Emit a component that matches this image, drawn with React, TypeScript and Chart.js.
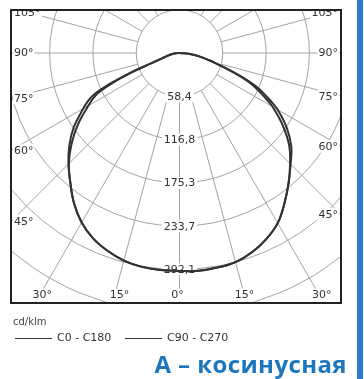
import React, { useEffect, useRef } from "react";
import { Chart, registerables } from "chart.js";

Chart.register(...registerables);

// ---- data (gamma angle in degrees: negative = left half, positive = right half) ----
const gammaAngles = [
  -90, -85, -80, -76, -74, -72, -70, -68, -66, -64, -62, -60, -55, -50, -45, -40, -35, -30, -25, -20, -15, -10, -5,
  0,
  5, 10, 15, 20, 25, 30, 35, 40, 45, 50, 55, 60, 62, 64, 66, 68, 70, 72, 74, 76, 80, 85, 90,
];
const seriesNames = ["C0 - C180", "C90 - C270"];
const c0c180 = [
  0, 5, 12, 18, 22, 28, 40, 68, 98, 121, 133, 142, 167, 190, 211, 229, 248, 264, 276, 284, 290, 293, 294,
  294,
  295, 294, 292, 286, 277, 265, 247, 229, 211, 193, 170, 145, 133, 121, 110, 96, 80, 64, 51, 42, 28, 14, 0,
];
const c90c270 = [
  0, 5, 12, 18, 22, 28, 41, 74, 105, 129, 141, 150, 174, 194, 212, 229, 248, 264, 276, 284, 290, 293, 294,
  294,
  295, 294, 292, 286, 277, 265, 247, 229, 212, 197, 177, 153, 141, 128, 116, 100, 82, 64, 51, 42, 28, 14, 0,
];
const ringStep = 58.42;
const ringValues = [58.4, 116.8, 175.3, 233.7, 292.1];
const ringLabels = ["58,4", "116,8", "175,3", "233,7", "292,1"];
const angleTicks = [-105, -90, -75, -60, -45, -30, -15, 0, 15, 30, 45, 60, 75, 90, 105];
const angleTickLabels = ["105°", "90°", "75°", "60°", "45°", "30°", "15°", "0°", "15°", "30°", "45°", "60°", "75°", "90°", "105°"];
const unitLabel = "cd/klm";
const titleText = "А – косинусная";

// ---- layout ----
const W = 364;
const H = 379;
const BOX = { left: 11, top: 10, right: 341, bottom: 303 };
const CENTER = { x: 179.5, y: 53 };
const PPU = 43.3 / ringStep; // pixels per cd/klm

const X_MIN = -(CENTER.x - BOX.left) / PPU;
const X_MAX = (BOX.right - CENTER.x) / PPU;
const Y_MAX = (CENTER.y - BOX.top) / PPU;
const Y_MIN = -(BOX.bottom - CENTER.y) / PPU;

const toXY = (vals: number[]) =>
  gammaAngles.map((a, i) => {
    const t = (a * Math.PI) / 180;
    return { x: vals[i] * Math.sin(t), y: -vals[i] * Math.cos(t) };
  });

const FONT = '11px "DejaVu Sans"';
const GRID = "#a3a3a3";
const TXT = "#333333";

const polarGrid = {
  id: "polarGrid",
  beforeDatasetsDraw(chart: any) {
    const { ctx, chartArea: a, scales } = chart;
    const xs = scales.x;
    const ys = scales.y;
    const cx = xs.getPixelForValue(0);
    const cy = ys.getPixelForValue(0);
    const ppu = xs.getPixelForValue(1) - cx;
    ctx.save();
    ctx.beginPath();
    ctx.rect(a.left, a.top, a.right - a.left, a.bottom - a.top);
    ctx.clip();
    ctx.fillStyle = "#ffffff";
    ctx.fillRect(a.left, a.top, a.right - a.left, a.bottom - a.top);
    ctx.strokeStyle = GRID;
    ctx.lineWidth = 1;
    for (let k = 1; k <= 8; k++) {
      ctx.beginPath();
      ctx.arc(cx, cy, k * ringStep * ppu, 0, Math.PI * 2);
      ctx.stroke();
    }
    const r0 = ringStep * ppu;
    const r1 = 12 * ringStep * ppu;
    for (let d = 0; d < 360; d += 15) {
      const t = (d * Math.PI) / 180;
      const dx = Math.sin(t);
      const dy = Math.cos(t);
      ctx.beginPath();
      ctx.moveTo(cx + dx * r0, cy + dy * r0);
      ctx.lineTo(cx + dx * r1, cy + dy * r1);
      ctx.stroke();
    }
    ctx.font = FONT;
    ctx.textBaseline = "middle";
    ctx.textAlign = "center";
    ringValues.forEach((v, i) => {
      const y = cy + v * ppu;
      const w = ctx.measureText(ringLabels[i]).width + 4;
      ctx.fillStyle = "#ffffff";
      ctx.fillRect(cx - w / 2, y - 6, w, 12);
      ctx.fillStyle = TXT;
      ctx.fillText(ringLabels[i], cx, y + 0.5);
    });
    angleTicks.forEach((g, i) => {
      const t = (g * Math.PI) / 180;
      const dx = Math.sin(t);
      const dy = Math.cos(t);
      const label = angleTickLabels[i];
      const w = ctx.measureText(label).width;
      let tx: number;
      let ty: number;
      let ta: "left" | "right" | "center";
      const cands: number[] = [];
      if (dx < 0) cands.push((a.left - cx) / dx);
      if (dx > 0) cands.push((a.right - cx) / dx);
      if (dy > 0) cands.push((a.bottom - cy) / dy);
      if (dy < 0) cands.push((a.top - cy) / dy);
      const s = Math.min(...cands);
      const px = cx + dx * s;
      const py = cy + dy * s;
      if (py >= a.bottom - 0.5) {
        ta = "center";
        tx = px + (g < 0 ? 7 : -2);
        ty = a.bottom - 8;
      } else if (dx < 0) {
        ta = "left";
        tx = a.left + 3;
        ty = Math.max(py, a.top + 3);
      } else {
        ta = "right";
        tx = a.right - 3;
        ty = Math.max(py, a.top + 3);
      }
      const lx = ta === "left" ? tx - 1 : ta === "right" ? tx - w - 1 : tx - w / 2 - 1;
      ctx.fillStyle = "#ffffff";
      ctx.fillRect(lx, ty - 6.5, w + 2, 13);
      ctx.textAlign = ta;
      ctx.fillStyle = TXT;
      ctx.fillText(label, tx, ty + 0.5);
    });
    ctx.restore();
  },
  afterDatasetsDraw(chart: any) {
    const { ctx, chartArea: a } = chart;
    ctx.save();
    ctx.strokeStyle = "#222222";
    ctx.lineWidth = 2;
    ctx.strokeRect(a.left, a.top, a.right - a.left, a.bottom - a.top);
    ctx.restore();
  },
};

export default function App() {
  const ref = useRef<HTMLCanvasElement | null>(null);
  useEffect(() => {
    if (!ref.current) return;
    const chart = new Chart(ref.current, {
      type: "scatter",
      data: {
        datasets: [
          {
            label: seriesNames[0],
            data: toXY(c0c180),
            showLine: true,
            borderColor: "#333333",
            borderWidth: 2,
            pointRadius: 0,
            tension: 0.4,
          },
          {
            label: seriesNames[1],
            data: toXY(c90c270),
            showLine: true,
            borderColor: "#333333",
            borderWidth: 2,
            pointRadius: 0,
            tension: 0.4,
          },
        ],
      },
      options: {
        responsive: false,
        maintainAspectRatio: false,
        animation: false,
        layout: { padding: { left: BOX.left, top: BOX.top, right: W - BOX.right, bottom: H - BOX.bottom } },
        scales: {
          x: { type: "linear", display: false, min: X_MIN, max: X_MAX },
          y: { type: "linear", display: false, min: Y_MIN, max: Y_MAX },
        },
        plugins: { legend: { display: false }, tooltip: { enabled: false } },
      },
      plugins: [polarGrid],
    });
    return () => chart.destroy();
  }, []);

  const legendLine = (left: number) => ({
    position: "absolute" as const,
    left,
    top: 338,
    width: 37,
    height: 0,
    borderTop: "1.5px solid #333",
  });

  return (
    <div style={{ position: "fixed", left: 0, top: 0, width: W, height: H, background: "#fff", overflow: "hidden" }}>
      <canvas ref={ref} width={W} height={H} style={{ position: "absolute", left: 0, top: 0, width: W, height: H }} />
      <div style={{ position: "absolute", left: 13, top: 316, font: '10px "DejaVu Sans"', color: "#444" }}>{unitLabel}</div>
      <div style={legendLine(15)} />
      <div style={{ position: "absolute", left: 57, top: 331, font: FONT, color: TXT }}>{seriesNames[0]}</div>
      <div style={legendLine(125)} />
      <div style={{ position: "absolute", left: 167, top: 331, font: FONT, color: TXT }}>{seriesNames[1]}</div>
      <div
        style={{
          position: "absolute",
          right: 17,
          top: 351,
          font: '700 24px "Open Sans"',
          letterSpacing: "0.4px",
          color: "#1b76bd",
          whiteSpace: "nowrap",
          lineHeight: "26px",
        }}
      >
        {titleText}
      </div>
      <div style={{ position: "absolute", left: 357, top: 0, width: 6, height: H, background: "#2a7fc6" }} />
    </div>
  );
}
